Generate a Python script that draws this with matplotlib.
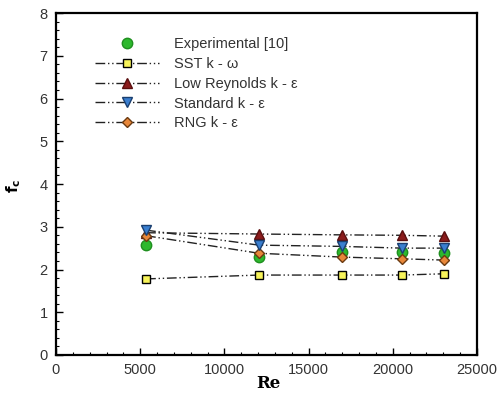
import matplotlib
matplotlib.use("Agg")
import matplotlib.pyplot as plt
from matplotlib.ticker import MultipleLocator

plt.rcParams['font.family'] = ['Liberation Sans', 'DejaVu Sans']

re_vals = [5350, 12050, 17000, 20550, 23050]
experimental = [2.57, 2.30, 2.40, 2.40, 2.38]
sst = [1.78, 1.87, 1.87, 1.87, 1.90]
low_re = [2.86, 2.83, 2.81, 2.80, 2.78]
standard = [2.92, 2.57, 2.54, 2.50, 2.50]
rng = [2.79, 2.38, 2.29, 2.25, 2.22]

labels = ["Experimental [10]", "SST k - \u03c9", "Low Reynolds k - \u03b5",
          "Standard k - \u03b5", "RNG k - \u03b5"]

W, H = 499, 398
fig = plt.figure(figsize=(W / 100, H / 100), dpi=100)
ax = fig.add_axes([56 / W, 1 - 355 / H, (477 - 56) / W, (355 - 13) / H])

ls = (0, (7, 2, 1, 2, 1, 2))
ax.plot(re_vals, experimental, linestyle='none', marker='o', markersize=7.5,
        markerfacecolor='#2db82d', markeredgecolor='#1f8f1f', label=labels[0], zorder=2)
ax.plot(re_vals, sst, linestyle=ls, color='#222222', lw=1, marker='s', markersize=6,
        markerfacecolor='#f7f35a', markeredgecolor='black', label=labels[1], zorder=3)
ax.plot(re_vals, low_re, linestyle=ls, color='#222222', lw=1, marker='^', markersize=6.5,
        markerfacecolor='#8b1c1c', markeredgecolor='#5a0f0f', label=labels[2], zorder=3)
ax.plot(re_vals, rng, linestyle=ls, color='#222222', lw=1, marker='D', markersize=5.5,
        markerfacecolor='#e8873a', markeredgecolor='#6b3a10', label=labels[4], zorder=4)
ax.plot(re_vals, standard, linestyle=ls, color='#222222', lw=1, marker='v', markersize=6.5,
        markerfacecolor='#3a7fd0', markeredgecolor='#1a3f70', label=labels[3], zorder=5)

ax.set_xlim(0, 25000)
ax.set_ylim(0, 8)
ax.xaxis.set_major_locator(MultipleLocator(5000))
ax.xaxis.set_minor_locator(MultipleLocator(1000))
ax.yaxis.set_major_locator(MultipleLocator(1))
ax.yaxis.set_minor_locator(MultipleLocator(0.2))
ax.tick_params(which='both', direction='in', top=False, right=False, labelsize=10.5,
               colors='black', labelcolor='#333333')
ax.tick_params(which='major', length=5, width=1, pad=6)
ax.tick_params(which='minor', length=2.5, width=0.8)
for s in ax.spines.values():
    s.set_linewidth(1.6)

fig.text(268 / W, 1 - 384 / H, "Re", ha='center', va='center', family='DejaVu Serif',
         fontweight='bold', fontsize=12)
fig.text(14 / W, 1 - 186 / H, r"$\mathbf{f_c}$", ha='center', va='center',
         rotation=90, fontsize=11, family='DejaVu Serif')

handles, labs = ax.get_legend_handles_labels()
order = [labs.index(l) for l in labels]
leg = ax.legend([handles[i] for i in order], [labs[i] for i in order],
                loc='upper left', bbox_to_anchor=((95 - 56) / 421, (355 - 37) / 342),
                frameon=False, borderpad=0, borderaxespad=0, fontsize=10.5,
                handlelength=4.4, handletextpad=1.0, labelspacing=0.4)
for t in leg.get_texts():
    t.set_color('#333333')

fig.savefig("out.png", dpi=100)
